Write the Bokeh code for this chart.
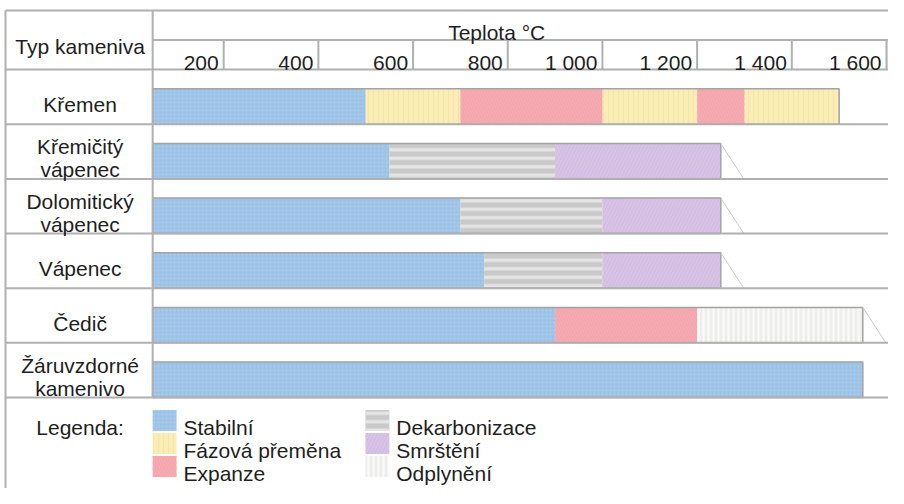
from bokeh.plotting import figure
from bokeh.models import Range1d
from bokeh.embed import file_html
from bokeh.resources import INLINE
from bokeh.core.properties import value

# ---------------- data ----------------
row_label_lines = [
    ["Křemen"],
    ["Křemičitý", "vápenec"],
    ["Dolomitický", "vápenec"],
    ["Vápenec"],
    ["Čedič"],
    ["Žáruvzdorné", "kamenivo"],
]
t_start = 50
tick_values = [200, 400, 600, 800, 1000, 1200, 1400, 1600]
tick_labels = ["200", "400", "600", "800", "1 000", "1 200", "1 400", "1 600"]

phase_names = ["Stabilní", "Fázová přeměna", "Expanze", "Dekarbonizace", "Smrštění", "Odplynění"]

kremen_bounds = [50, 500, 700, 1000, 1200, 1300, 1500]
kremen_phases = ["Stabilní", "Fázová přeměna", "Expanze", "Fázová přeměna", "Expanze", "Fázová přeměna"]
kremicity_bounds = [50, 550, 900, 1250]
kremicity_phases = ["Stabilní", "Dekarbonizace", "Smrštění"]
dolomiticky_bounds = [50, 700, 1000, 1250]
dolomiticky_phases = ["Stabilní", "Dekarbonizace", "Smrštění"]
vapenec_bounds = [50, 750, 1000, 1250]
vapenec_phases = ["Stabilní", "Dekarbonizace", "Smrštění"]
cedic_bounds = [50, 900, 1200, 1550]
cedic_phases = ["Stabilní", "Expanze", "Odplynění"]
zaruvzdorne_bounds = [50, 1550]
zaruvzdorne_phases = ["Stabilní"]

all_bounds = [kremen_bounds, kremicity_bounds, dolomiticky_bounds, vapenec_bounds, cedic_bounds, zaruvzdorne_bounds]
all_phases = [kremen_phases, kremicity_phases, dolomiticky_phases, vapenec_phases, cedic_phases, zaruvzdorne_phases]

# ---------------- styles ----------------
phase_style = {
    "Stabilní": dict(fill_color="#9dc3e6", hatch_pattern="dot", hatch_color="#b6d3ef",
                     hatch_scale=4, hatch_weight=1, hatch_alpha=0.6),
    "Fázová přeměna": dict(fill_color="#fbedb6", hatch_pattern="vertical_line", hatch_color="#f1df9c",
                           hatch_scale=5, hatch_weight=1.2, hatch_alpha=0.55),
    "Expanze": dict(fill_color="#f6aab1", hatch_pattern="left_diagonal_line", hatch_color="#ef9ea6",
                    hatch_scale=6, hatch_weight=1, hatch_alpha=0.6),
    "Dekarbonizace": dict(fill_color="#c9c9c9", hatch_pattern="horizontal_line", hatch_color="#e4e4e4",
                          hatch_scale=8.5, hatch_weight=3.5, hatch_alpha=1.0),
    "Smrštění": dict(fill_color="#d7c3e6", hatch_pattern="right_diagonal_line", hatch_color="#ccb4df",
                     hatch_scale=7, hatch_weight=1, hatch_alpha=0.6),
    "Odplynění": dict(fill_color="#eeeeea", hatch_pattern="vertical_line", hatch_color="#fbfbfa",
                      hatch_scale=5, hatch_weight=2, hatch_alpha=1.0),
}
tail_rows = [1, 2, 3, 4]

LINE = "#b0b0b0"
TXT = "#1e1e1e"
FONT = value("Liberation Sans")
FS = "21px"

# ---------------- layout geometry ----------------
W, H = 888, 488
# reference-pixel -> canvas-pixel (slight squeeze so the table fits)
SX = (886.0 - 5.0) / (895.0 - 9.0)
AX = 5.0 - 9.0 * SX
SY = (397.0 - 10.0) / (407.0 - 14.0)
AY = 10.0 - 14.0 * SY


def cx(rx):
    return AX + SX * rx


def cy(ryv):
    return AY + SY * ryv


CX_T0 = cx(157.0)
PX_PER_DEG = (cx(895.0) - CX_T0) / (1600 - t_start)
CY_R0 = cy(74.0)
ROW_H = (cy(407.0) - CY_R0) / 6.0


def tx(canvas_x):
    return t_start + (canvas_x - CX_T0) / PX_PER_DEG


def ry(canvas_y):
    return (canvas_y - CY_R0) / ROW_H


def X(rx):
    return tx(cx(rx))


def Y(ryv):
    return ry(cy(ryv))


x_left, x_right = tx(0), tx(W)
y_top, y_bottom = ry(0), ry(H)

p = figure(width=W, height=H, x_range=Range1d(x_left, x_right),
           y_range=Range1d(y_bottom, y_top), output_backend="svg",
           toolbar_location=None, x_axis_location=None, y_axis_location=None,
           min_border=0)
p.grid.visible = False
p.outline_line_color = None
p.background_fill_color = "white"
p.border_fill_color = "white"

n_rows = len(row_label_lines)
bar_off = 19.5 / 55.5

# header grey cell right of the last tick
p.quad(left=[1600], right=[x_right], top=[Y(44)], bottom=[Y(74)],
       fill_color="#efefef", line_color=None)

# ---------------- bars ----------------
for ph in phase_names:
    L, R, T, B = [], [], [], []
    for i, (bounds, phases) in enumerate(zip(all_bounds, all_phases)):
        for j, name in enumerate(phases):
            if name == ph:
                L.append(bounds[j]); R.append(bounds[j + 1])
                T.append(i + bar_off); B.append(i + 1)
    if L:
        p.quad(left=L, right=R, top=T, bottom=B, line_color=None, **phase_style[ph])

row_ends = [b[-1] for b in all_bounds]
p.quad(left=[t_start] * n_rows, right=row_ends,
       top=[i + bar_off for i in range(n_rows)], bottom=[i + 1 for i in range(n_rows)],
       fill_color=None, line_color="#a3a3a3", line_width=1.5)

tail_deg = 23 / PX_PER_DEG
p.segment(x0=[row_ends[i] for i in tail_rows], y0=[i + bar_off for i in tail_rows],
          x1=[row_ends[i] + tail_deg for i in tail_rows], y1=[i + 1 for i in tail_rows],
          line_color="#c8c8c8", line_width=1)

# ---------------- table lines ----------------
x0s, y0s, x1s, y1s = [], [], [], []
x0s.append(X(9)); y0s.append(Y(14)); x1s.append(x_right); y1s.append(Y(14))
x0s.append(X(9)); y0s.append(Y(14)); x1s.append(X(9)); y1s.append(y_bottom)
x0s.append(t_start); y0s.append(Y(14)); x1s.append(t_start); y1s.append(n_rows)
x0s.append(t_start); y0s.append(Y(44)); x1s.append(x_right); y1s.append(Y(44))
for tv in tick_values:
    x0s.append(tv); y0s.append(Y(44)); x1s.append(tv); y1s.append(0)
for r in range(n_rows + 1):
    x0s.append(X(9)); y0s.append(r); x1s.append(x_right); y1s.append(r)
p.segment(x0=x0s, y0=y0s, x1=x1s, y1=y1s, line_color=LINE, line_width=2)


# ---------------- texts ----------------
def put(xs, ys, texts, align="center", x_offset=0):
    p.text(x=xs, y=ys, text=texts, text_font=FONT, text_font_size=FS,
           text_color=TXT, text_align=align, text_baseline="alphabetic",
           x_offset=x_offset)


put([X(84)], [Y(50.5)], ["Typ kameniva"])
put([X(503)], [Y(36)], ["Teplota °C"])
put(tick_values, [Y(67)] * len(tick_values), tick_labels, align="right", x_offset=-5)

lx, ly, lt = [], [], []
for i, lines in enumerate(row_label_lines):
    c = 74.0 + 55.5 * (i + 0.5)
    if len(lines) == 1:
        lx.append(X(84)); ly.append(Y(c + 8)); lt.append(lines[0])
    else:
        lx.append(X(84)); ly.append(Y(c - 5)); lt.append(lines[0])
        lx.append(X(84)); ly.append(Y(c + 18.5)); lt.append(lines[1])
put(lx, ly, lt)

# ---------------- legend (canvas rows squeezed to fit) ----------------
leg_rows_canvas = [420, 443, 466]
leg_cols_ref = [157, 371]
put([X(84)], [ry(leg_rows_canvas[0] + 6.5)], ["Legenda:"])
for k, ph in enumerate(phase_names):
    col, row = divmod(k, 3)
    sx = leg_cols_ref[col]
    c = leg_rows_canvas[row]
    p.quad(left=[X(sx)], right=[X(sx + 24)], top=[ry(c - 10.5)], bottom=[ry(c + 10.5)],
           line_color=None, **phase_style[ph])
    put([X(sx + 31)], [ry(c + 6.5)], [ph], align="left")

open("out.html", "w").write(file_html(p, INLINE))
